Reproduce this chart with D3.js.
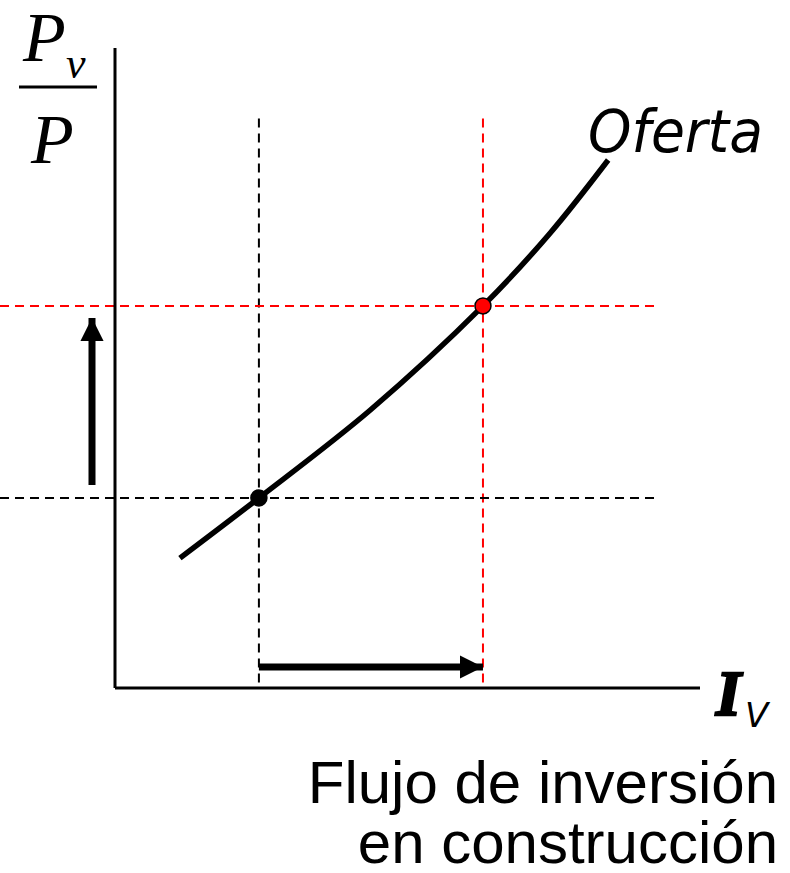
<!DOCTYPE html>
<meta charset="utf-8">
<script src="https://d3js.org/d3.v7.min.js"></script>
<style>
  body { margin: 0; background: #fff; }
</style>
<div id="chart"></div>
<script>
// curve values (arbitrary units, 0-100 on both axes)
const supplyX = [11.1, 24.6, 43.6, 62.9, 74.4, 84.3];
const supplyY = [20.3, 29.7, 43.4, 59.7, 71.1, 82.5];
// equilibrium points: before (black) and after (red)
const eqX = [24.6, 62.9];
const eqY = [29.7, 59.7];
const eqColor = ["#000", "#ff0000"];
const guideTop = 89;   // vertical guides start
const guideRight = 93; // horizontal guides end

const W = 790, H = 873;
const x = d3.scaleLinear().domain([0, 100]).range([115, 700]);
const y = d3.scaleLinear().domain([0, 100]).range([688, 48]);

const svg = d3.select("#chart").append("svg")
  .attr("width", W).attr("height", H);

svg.append("defs").append("marker")
  .attr("id", "head")
  .attr("viewBox", "0 0 10 10")
  .attr("refX", 10).attr("refY", 5)
  .attr("markerWidth", 3.3).attr("markerHeight", 3.3)
  .attr("markerUnits", "strokeWidth")
  .attr("orient", "auto")
  .append("path").attr("d", "M0,0L10,5L0,10Z").attr("fill", "#000");

// dashed guides
eqX.forEach((v, i) => {
  svg.append("line")
    .attr("x1", x(v)).attr("x2", x(v))
    .attr("y1", y(guideTop)).attr("y2", y(0))
    .attr("stroke", eqColor[i]).attr("stroke-width", 2)
    .attr("stroke-dasharray", "9,6");
});
eqY.forEach((v, i) => {
  svg.append("line")
    .attr("x1", 0).attr("x2", x(guideRight))
    .attr("y1", y(v)).attr("y2", y(v))
    .attr("stroke", eqColor[i]).attr("stroke-width", 2)
    .attr("stroke-dasharray", "9,6");
});

// axes
svg.append("line").attr("x1", x(0)).attr("x2", x(0))
  .attr("y1", y(100)).attr("y2", y(0))
  .attr("stroke", "#000").attr("stroke-width", 3);
svg.append("line").attr("x1", x(0)).attr("x2", x(100))
  .attr("y1", y(0)).attr("y2", y(0))
  .attr("stroke", "#000").attr("stroke-width", 3);

// supply curve
const line = d3.line()
  .x(d => x(d[0])).y(d => y(d[1]))
  .curve(d3.curveCatmullRom);
svg.append("path")
  .datum(d3.zip(supplyX, supplyY))
  .attr("d", line)
  .attr("fill", "none").attr("stroke", "#000").attr("stroke-width", 5.5);

// points
eqX.forEach((v, i) => {
  svg.append("circle")
    .attr("cx", x(v)).attr("cy", y(eqY[i])).attr("r", 8)
    .attr("fill", eqColor[i]).attr("stroke", "#000").attr("stroke-width", 1.5);
});

// arrows
svg.append("line")
  .attr("x1", 92).attr("x2", 92)
  .attr("y1", y(eqY[0]) - 13).attr("y2", y(eqY[1]) + 12)
  .attr("stroke", "#000").attr("stroke-width", 7)
  .attr("marker-end", "url(#head)");
svg.append("line")
  .attr("x1", x(eqX[0])).attr("x2", x(eqX[1]))
  .attr("y1", 667).attr("y2", 667)
  .attr("stroke", "#000").attr("stroke-width", 7)
  .attr("marker-end", "url(#head)");

// labels
svg.append("text").attr("x", 588).attr("y", 152)
  .attr("font-family", "DejaVu Sans").attr("font-style", "italic")
  .attr("font-size", 58)
  .attr("textLength", 175).attr("lengthAdjust", "spacingAndGlyphs")
  .text("Oferta");

const serif = "Liberation Serif";
svg.append("text").attr("x", 23).attr("y", 61)
  .attr("font-family", serif).attr("font-style", "italic")
  .attr("font-size", 70).text("P");
svg.append("text").attr("x", 66).attr("y", 78)
  .attr("font-family", serif).attr("font-style", "italic")
  .attr("font-size", 44).text("v");
svg.append("line").attr("x1", 19).attr("x2", 97)
  .attr("y1", 87).attr("y2", 87)
  .attr("stroke", "#000").attr("stroke-width", 3);
svg.append("text").attr("x", 31).attr("y", 163)
  .attr("font-family", serif).attr("font-style", "italic")
  .attr("font-size", 70).text("P");

svg.append("text").attr("x", 716).attr("y", 715)
  .attr("font-family", serif).attr("font-style", "italic").attr("font-weight", "bold")
  .attr("font-size", 64)
  .attr("stroke", "#000").attr("stroke-width", 2.5)
  .text("I");
svg.append("text").attr("x", 745).attr("y", 727)
  .attr("font-family", "DejaVu Sans").attr("font-style", "italic")
  .attr("font-size", 34).text("V");

svg.append("text").attr("x", 778).attr("y", 803)
  .attr("text-anchor", "end").attr("font-family", "Liberation Sans")
  .attr("font-size", 60).text("Flujo de inversión");
svg.append("text").attr("x", 778).attr("y", 863)
  .attr("text-anchor", "end").attr("font-family", "Liberation Sans")
  .attr("font-size", 60).text("en construcción");
</script>
